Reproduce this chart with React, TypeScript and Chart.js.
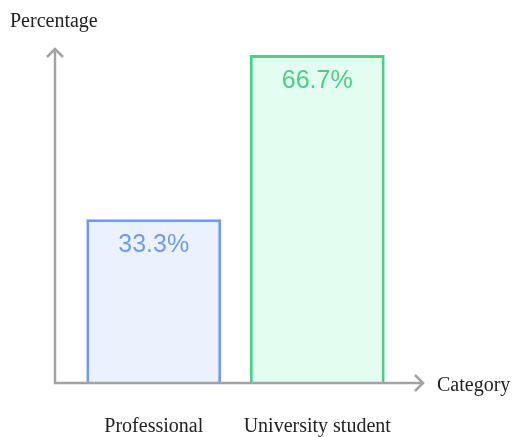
import React, { useEffect, useRef } from "react";
import { Chart, registerables } from "chart.js";

Chart.register(...registerables);

const categories = ["Professional", "University student"];
const values = [33.3, 66.7];
const valueLabels = ["33.3%", "66.7%"];
const borderColors = ["#6f9cf0", "#48cf88"];
const fillColors = ["#ebf2fe", "#e3fdf0"];
const xTitle = "Category";
const yTitle = "Percentage";

const overlay = {
  id: "overlay",
  afterDatasetsDraw(chart: any) {
    const ctx = chart.ctx;
    const area = chart.chartArea;
    const xs = chart.scales.x;
    const ax = 55;
    const ay = area.bottom;
    ctx.save();
    // bar value labels
    const meta = chart.getDatasetMeta(0);
    ctx.font = "25px 'Liberation Sans', Arial, sans-serif";
    ctx.textAlign = "center";
    ctx.textBaseline = "middle";
    meta.data.forEach((bar: any, i: number) => {
      ctx.fillStyle = borderColors[i];
      ctx.fillText(valueLabels[i], bar.x, bar.y + 26);
    });
    // axes
    ctx.strokeStyle = "#a3a3a3";
    ctx.lineWidth = 2.5;
    ctx.lineCap = "butt";
    ctx.beginPath();
    ctx.moveTo(ax, ay);
    ctx.lineTo(ax, 49);
    ctx.moveTo(ax - 1.25, ay);
    ctx.lineTo(423, ay);
    ctx.stroke();
    ctx.beginPath();
    ctx.moveTo(ax - 8, 57);
    ctx.lineTo(ax, 49);
    ctx.lineTo(ax + 8, 57);
    ctx.moveTo(415, ay - 8);
    ctx.lineTo(423, ay);
    ctx.lineTo(415, ay + 8);
    ctx.stroke();
    // titles
    ctx.fillStyle = "#222";
    ctx.font = "20px 'Liberation Serif', 'Times New Roman', serif";
    ctx.textAlign = "left";
    ctx.textBaseline = "middle";
    ctx.fillText(yTitle, 10, 22);
    ctx.fillText(xTitle, 437, 386);
    // tick labels
    ctx.textAlign = "center";
    categories.forEach((c, i) => {
      ctx.fillText(c, xs.getPixelForValue(i), 427);
    });
    ctx.restore();
  },
};

export default function App() {
  const ref = useRef<HTMLCanvasElement>(null);
  useEffect(() => {
    if (!ref.current) return;
    const chart = new Chart(ref.current, {
      type: "bar",
      data: {
        labels: categories,
        datasets: [
          {
            data: values,
            backgroundColor: fillColors,
            borderColor: borderColors,
            borderWidth: 3,
            borderSkipped: "bottom",
            barPercentage: 0.825,
            categoryPercentage: 1,
          },
        ],
      },
      options: {
        responsive: false,
        animation: false,
        layout: { padding: { left: 72, right: 115, top: 55, bottom: 54 } },
        plugins: { legend: { display: false }, tooltip: { enabled: false } },
        scales: {
          x: { display: false },
          y: { display: false, min: 0, max: 66.7 },
        },
      },
      plugins: [overlay],
    });
    return () => chart.destroy();
  }, []);
  return (
    <div style={{ position: "fixed", left: 0, top: 0, width: 514, height: 437, background: "#fff" }}>
      <canvas ref={ref} width={514} height={437} />
    </div>
  );
}
